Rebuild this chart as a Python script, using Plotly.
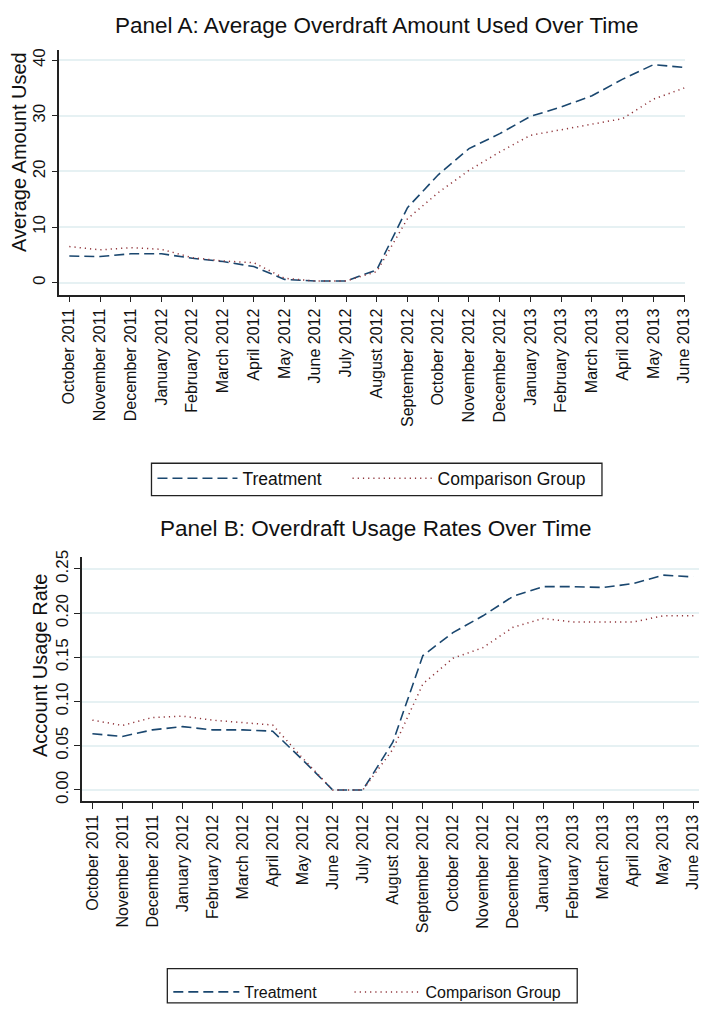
import plotly.graph_objects as go

months = ["October 2011", "November 2011", "December 2011", "January 2012",
          "February 2012", "March 2012", "April 2012", "May 2012", "June 2012",
          "July 2012", "August 2012", "September 2012", "October 2012",
          "November 2012", "December 2012", "January 2013", "February 2013",
          "March 2013", "April 2013", "May 2013", "June 2013"]

amount_treatment = [4.8, 4.7, 5.2, 5.2, 4.4, 3.8, 2.9, 0.6, 0.3, 0.3, 2.3,
                    13.5, 19.4, 24.1, 26.8, 29.9, 31.6, 33.6, 36.6, 39.2, 38.7]
amount_comparison = [6.5, 5.9, 6.3, 6.0, 4.5, 3.9, 3.6, 0.8, 0.3, 0.3, 2.0,
                     11.5, 16.2, 20.2, 23.5, 26.5, 27.5, 28.5, 29.5, 33.0, 35.0]

rate_treatment = [0.0636, 0.0606, 0.068, 0.0717, 0.068, 0.068, 0.0665, 0.034,
                  0.0, 0.0, 0.054, 0.152, 0.178, 0.197, 0.219, 0.230, 0.230,
                  0.229, 0.2335, 0.243, 0.241]
rate_comparison = [0.079, 0.073, 0.082, 0.0835, 0.079, 0.076, 0.0735, 0.036,
                   0.0, 0.0, 0.046, 0.120, 0.149, 0.161, 0.184, 0.194, 0.190,
                   0.190, 0.190, 0.197, 0.197]

amount_ticks = [0, 10, 20, 30, 40]
rate_ticks = [0.0, 0.05, 0.10, 0.15, 0.20, 0.25]

NAVY = "#1a476f"
MAROON = "#90353b"
GRID = "#e6f1f3"
FONT = "Liberation Sans, Arial, sans-serif"
W, H = 706, 1009


def px_x(p):
    return p / W


def px_y(p):
    return 1 - p / H


fig = go.Figure()

fig.add_trace(go.Scatter(x=months, y=amount_treatment, mode="lines", name="Treatment",
                         line=dict(color=NAVY, width=1.6, dash="10px,5px"),
                         xaxis="x", yaxis="y", legend="legend", showlegend=True))
fig.add_trace(go.Scatter(x=months, y=amount_comparison, mode="lines", name="Comparison Group",
                         line=dict(color=MAROON, width=1.5, dash="1.2px,4px"),
                         xaxis="x", yaxis="y", legend="legend3", showlegend=True))
fig.add_trace(go.Scatter(x=months, y=rate_treatment, mode="lines", name="Treatment",
                         line=dict(color=NAVY, width=1.6, dash="10px,5px"),
                         xaxis="x2", yaxis="y2", legend="legend2", showlegend=True))
fig.add_trace(go.Scatter(x=months, y=rate_comparison, mode="lines", name="Comparison Group",
                         line=dict(color=MAROON, width=1.5, dash="1.2px,4px"),
                         xaxis="x2", yaxis="y2", legend="legend4", showlegend=True))

xcommon = dict(type="category", showgrid=False, showline=True, linecolor="#222",
               linewidth=1.5, ticks="outside", ticklen=6, tickcolor="#222",
               tickwidth=1.3, tickangle=-90, tickfont=dict(size=16, color="#111"),
               zeroline=False, fixedrange=True)
ycommon = dict(showgrid=True, gridcolor=GRID, gridwidth=2, showline=True,
               linecolor="#222", linewidth=1.5, ticks="outside", ticklen=6,
               tickcolor="#222", tickwidth=1.3, tickangle=-90,
               tickfont=dict(size=17, color="#111"), zeroline=False)


def leg(xleft, ytop, size, iw):
    return dict(orientation="h", x=px_x(xleft), xanchor="left", y=px_y(ytop),
                yanchor="top", borderwidth=0, font=dict(size=size),
                entrywidth=0, itemwidth=iw, bgcolor="rgba(0,0,0,0)")


fig.update_layout(
    width=W, height=H,
    margin=dict(l=0, r=0, t=0, b=0),
    showlegend=True,
    paper_bgcolor="white", plot_bgcolor="white",
    font=dict(family=FONT, color="#111"),
    xaxis=dict(xcommon, domain=[px_x(60), px_x(692)], range=[-0.322, 20.03],
               anchor="y"),
    yaxis=dict(ycommon, domain=[px_y(292), px_y(43)], range=[-2.12, 41.8],
               tickvals=amount_ticks, anchor="x"),
    xaxis2=dict(xcommon, domain=[px_x(83), px_x(706)], range=[-0.34, 20.19],
                anchor="y2"),
    yaxis2=dict(ycommon, domain=[px_y(808), px_y(560)], range=[-0.0122, 0.263],
                tickvals=rate_ticks, tickformat=".2f", anchor="x2"),
    legend=leg(154, 461, 17.5, 80),
    legend3=leg(351, 461, 17.5, 80),
    legend2=leg(170, 986, 16, 66),
    legend4=leg(353, 986, 16, 66),
    shapes=[
        dict(type="rect", xref="paper", yref="paper", x0=px_x(153), x1=px_x(608),
             y0=px_y(497), y1=px_y(464), line=dict(color="#222", width=1.3),
             fillcolor="rgba(0,0,0,0)", layer="below"),
        dict(type="rect", xref="paper", yref="paper", x0=px_x(169), x1=px_x(583),
             y0=px_y(1014), y1=px_y(979), line=dict(color="#222", width=1.3),
             fillcolor="rgba(0,0,0,0)", layer="below"),
    ],
    annotations=[
        dict(text="Panel A: Average Overdraft Amount Used Over Time", x=px_x(381),
             y=px_y(18), xref="paper", yref="paper", showarrow=False,
             font=dict(size=22.5), xanchor="center", yanchor="middle"),
        dict(text="Panel B: Overdraft Usage Rates Over Time", x=px_x(379),
             y=px_y(530), xref="paper", yref="paper", showarrow=False,
             font=dict(size=22.5), xanchor="center", yanchor="middle"),
        dict(text="Average Amount Used", x=px_x(19), y=px_y(147), xref="paper",
             yref="paper", showarrow=False, textangle=-90, font=dict(size=20),
             xanchor="center", yanchor="middle"),
        dict(text="Account Usage Rate", x=px_x(41), y=px_y(670), xref="paper",
             yref="paper", showarrow=False, textangle=-90, font=dict(size=20),
             xanchor="center", yanchor="middle"),
    ],
)

fig.write_html("out.html", config={"displayModeBar": False},
               post_script="document.body.style.margin='0';")
